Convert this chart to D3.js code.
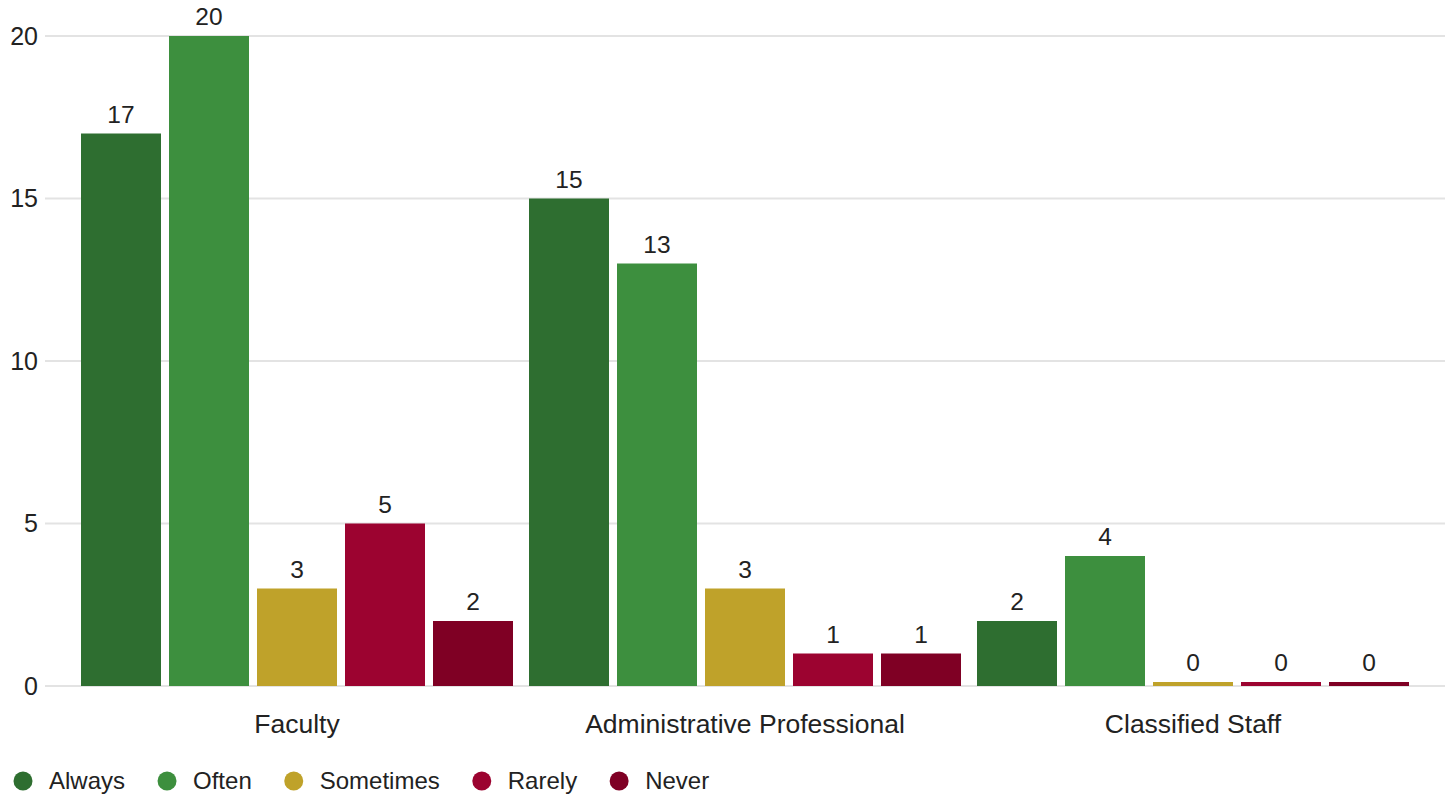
<!DOCTYPE html>
<html><head><meta charset="utf-8">
<script src="https://cdn.jsdelivr.net/npm/d3@7"></script>
<style>body{margin:0;background:#fff;font-family:"Liberation Sans",Arial,sans-serif;}</style>
</head><body><svg id="c" width="1455" height="799"></svg>
<script>
const categories = ["Faculty", "Administrative Professional", "Classified Staff"];
const seriesNames = ["Always", "Often", "Sometimes", "Rarely", "Never"];
const always = [17, 15, 2];
const often = [20, 13, 4];
const sometimes = [3, 3, 0];
const rarely = [5, 1, 0];
const never = [2, 1, 0];
const yTicks = [0, 5, 10, 15, 20];
const colors = ["#2e6e30", "#3d8f3e", "#bfa22a", "#9c0330", "#7f0024"];

const seriesValues = [always, often, sometimes, rarely, never];
const svg = d3.select("#c");
const x0 = d3.scaleBand().domain(categories).range([73, 1417]).padding(0);
const x1 = d3.scaleBand().domain(seriesNames).range([0, x0.bandwidth()]).paddingInner(1/11).paddingOuter(1/11);
const y = d3.scaleLinear().domain([0, 20]).range([686, 36]);

// grid
svg.append("g").selectAll("line").data(yTicks).join("line")
  .attr("x1", 45).attr("x2", 1445)
  .attr("y1", d => y(d)).attr("y2", d => y(d))
  .attr("stroke", "#e3e3e3").attr("stroke-width", 2);

// y labels
svg.append("g").selectAll("text").data(yTicks).join("text")
  .attr("x", 38).attr("y", d => y(d)).attr("dy", "0.35em")
  .attr("text-anchor", "end").attr("font-size", 25).attr("fill", "#222")
  .text(d => d);

// bars
const g = svg.append("g");
categories.forEach((cat, ci) => {
  seriesNames.forEach((s, si) => {
    const v = seriesValues[si][ci];
    const top = v === 0 ? y(0) - 4 : y(v);
    g.append("rect")
      .attr("x", x0(cat) + x1(s)).attr("width", x1.bandwidth())
      .attr("y", top).attr("height", y(0) - top)
      .attr("fill", colors[si]);
    g.append("text")
      .attr("x", x0(cat) + x1(s) + x1.bandwidth() / 2)
      .attr("y", top - 11)
      .attr("text-anchor", "middle").attr("font-size", 24.5).attr("fill", "#222")
      .text(v);
  });
});

// x labels
svg.append("g").selectAll("text").data(categories).join("text")
  .attr("x", d => x0(d) + x0.bandwidth() / 2).attr("y", 733)
  .attr("text-anchor", "middle").attr("font-size", 26.5).attr("fill", "#222")
  .text(d => d);

// legend
const leg = svg.append("g");
let lx = 13;
seriesNames.forEach((s, i) => {
  leg.append("circle").attr("cx", lx + 10).attr("cy", 781).attr("r", 9.5).attr("fill", colors[i]);
  const t = leg.append("text").attr("x", lx + 36).attr("y", 781).attr("dy", "0.35em")
    .attr("font-size", 24).attr("fill", "#222").text(s);
  lx += 36 + t.node().getComputedTextLength() + 32;
});
</script></body></html>
